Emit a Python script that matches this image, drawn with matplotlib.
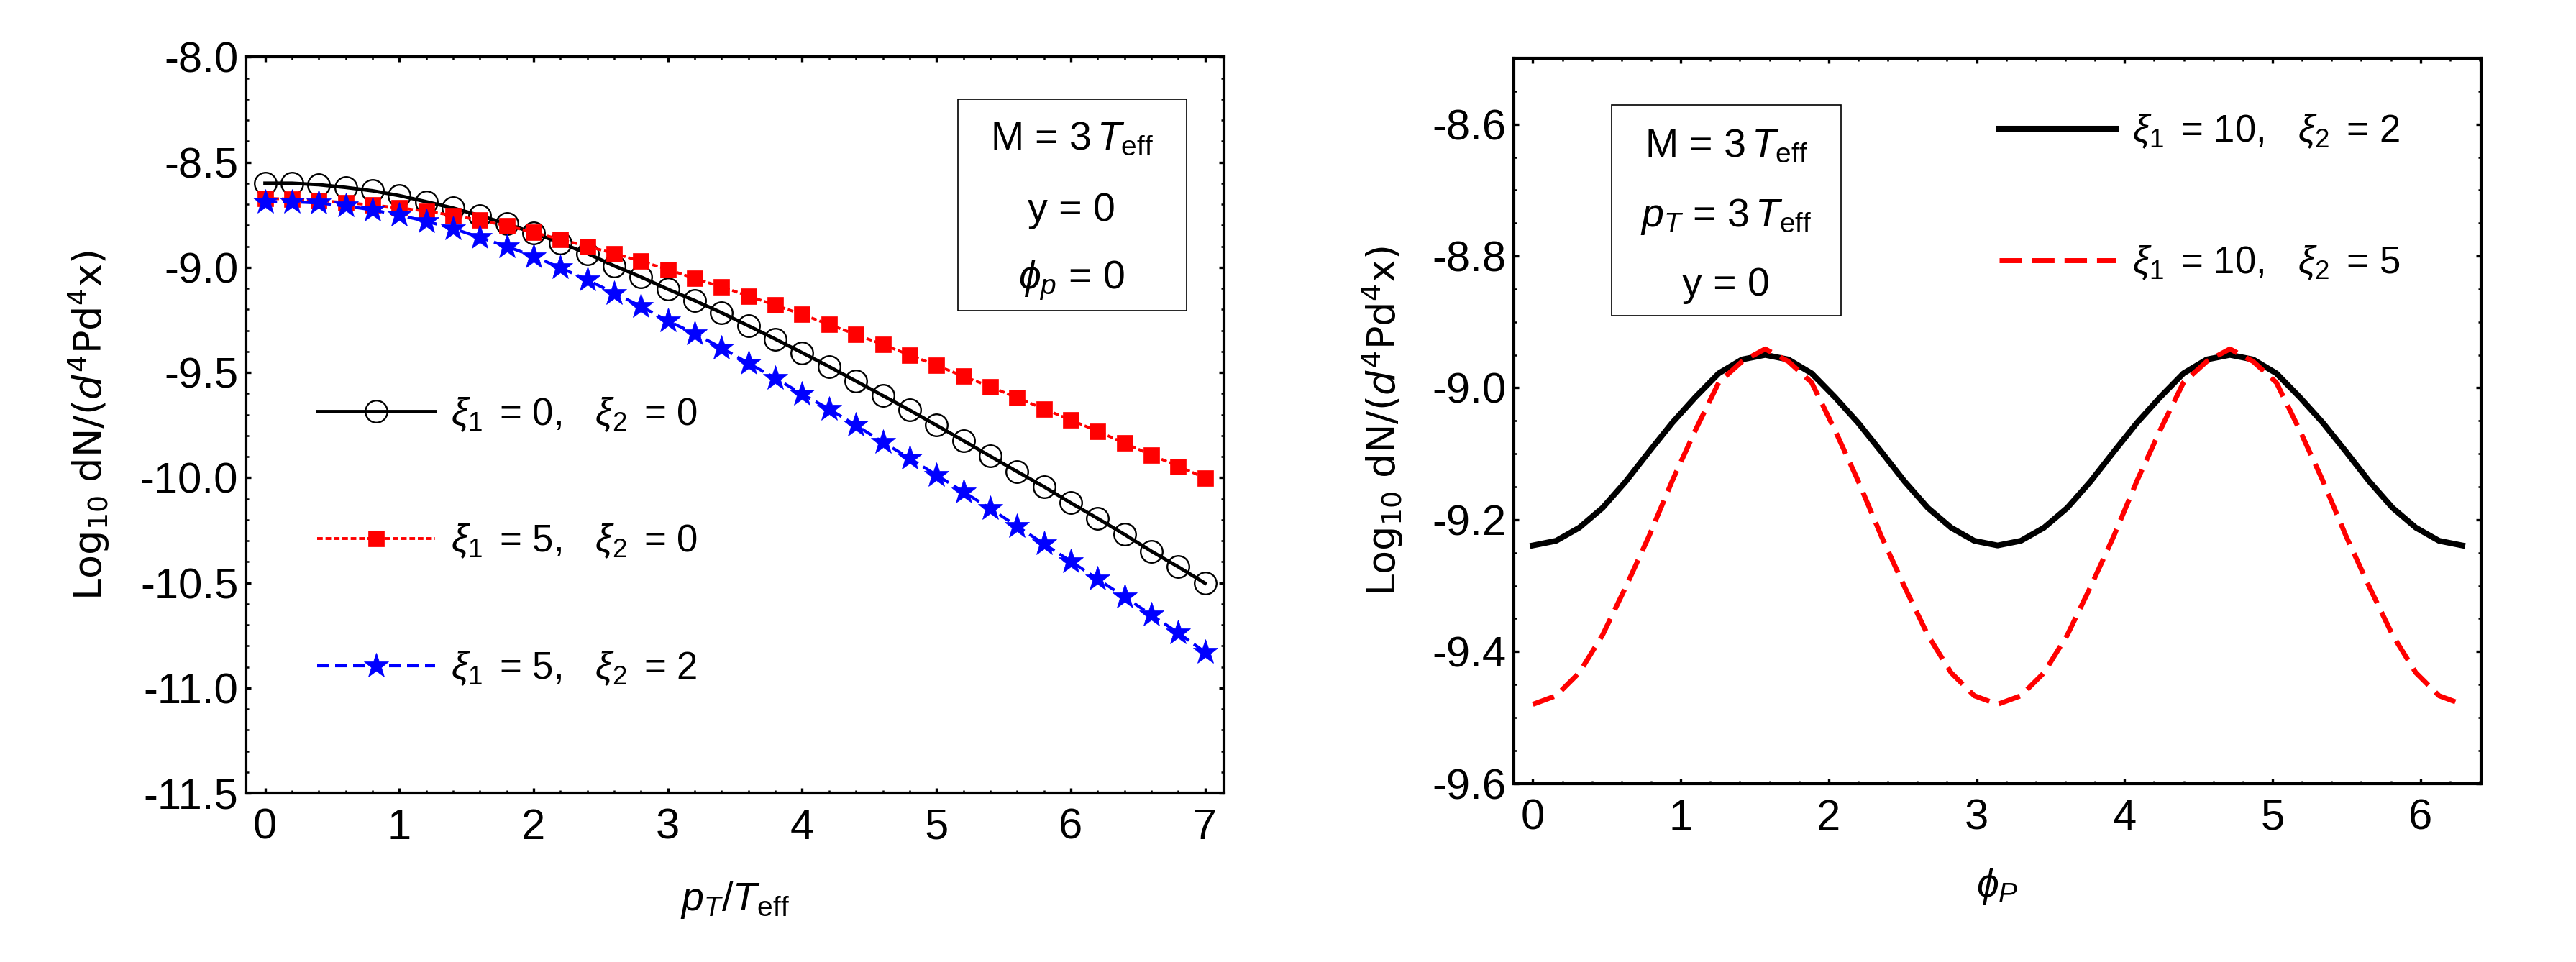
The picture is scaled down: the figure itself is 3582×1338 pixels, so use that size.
import numpy as np
import matplotlib
matplotlib.use("Agg")
import matplotlib.pyplot as plt
from matplotlib.ticker import MultipleLocator, FormatStrFormatter
from matplotlib.patches import Rectangle

plt.rcParams['font.family'] = ['Liberation Sans', 'DejaVu Sans']
plt.rcParams['mathtext.fontset'] = 'custom'
plt.rcParams['mathtext.rm'] = 'Liberation Sans'
plt.rcParams['mathtext.it'] = 'Liberation Sans:italic'
plt.rcParams['mathtext.bf'] = 'Liberation Sans:bold'

# left panel: log10 yield vs pT/Teff (points every 0.2)
pt = np.linspace(0, 7, 36)
y_x0_0 = [-8.600, -8.600, -8.607, -8.620, -8.636, -8.659, -8.688, -8.718, -8.754, -8.793,
          -8.836, -8.884, -8.934, -8.993, -9.046, -9.104, -9.158, -9.216, -9.278, -9.341,
          -9.406, -9.472, -9.541, -9.610, -9.679, -9.751, -9.824, -9.898, -9.971, -10.043,
          -10.120, -10.194, -10.270, -10.350, -10.424, -10.502]
y_x5_0 = [-8.672, -8.676, -8.682, -8.692, -8.704, -8.717, -8.733, -8.753, -8.776, -8.802,
          -8.834, -8.867, -8.900, -8.934, -8.971, -9.010, -9.053, -9.093, -9.136, -9.180,
          -9.224, -9.272, -9.319, -9.367, -9.417, -9.466, -9.518, -9.567, -9.620, -9.673,
          -9.726, -9.779, -9.836, -9.892, -9.946, -10.001]
y_x5_2 = [-8.688, -8.688, -8.694, -8.708, -8.727, -8.752, -8.781, -8.815, -8.858, -8.900,
          -8.948, -9.002, -9.060, -9.122, -9.186, -9.255, -9.315, -9.383, -9.456, -9.527,
          -9.603, -9.674, -9.751, -9.831, -9.908, -9.988, -10.067, -10.147, -10.231, -10.315,
          -10.398, -10.482, -10.567, -10.653, -10.738, -10.830]
left_labels = [r"$\xi_1\,$ = 0,   $\xi_2\,$ = 0",
               r"$\xi_1\,$ = 5,   $\xi_2\,$ = 0",
               r"$\xi_1\,$ = 5,   $\xi_2\,$ = 2"]

# right panel: log10 yield vs phi_P (41 points over 0..2pi)
phi = np.linspace(0, 2 * np.pi, 41)
y_10_2 = [-9.239, -9.232, -9.212, -9.182, -9.142, -9.097, -9.053, -9.014, -8.978, -8.957,
          -8.950, -8.957, -8.978, -9.014, -9.053, -9.097, -9.142, -9.182, -9.212, -9.232,
          -9.239, -9.232, -9.212, -9.182, -9.142, -9.097, -9.053, -9.014, -8.978, -8.957,
          -8.950, -8.957, -8.978, -9.014, -9.053, -9.097, -9.142, -9.182, -9.212, -9.232,
          -9.239]
y_10_5 = [-9.480, -9.467, -9.432, -9.375, -9.302, -9.225, -9.141, -9.064, -8.992, -8.960,
          -8.941, -8.960, -8.992, -9.064, -9.141, -9.225, -9.302, -9.375, -9.432, -9.467,
          -9.480, -9.467, -9.432, -9.375, -9.302, -9.225, -9.141, -9.064, -8.992, -8.960,
          -8.941, -8.960, -8.992, -9.064, -9.141, -9.225, -9.302, -9.375, -9.432, -9.467,
          -9.480]
right_labels = [r"$\xi_1\,$ = 10,   $\xi_2\,$ = 2", r"$\xi_1\,$ = 10,   $\xi_2\,$ = 5"]

ylab = r"Log$_{10}$ dN/($d^4$Pd$^4$x)"

fig = plt.figure(figsize=(35.82, 13.38), dpi=100)
ax1 = fig.add_axes([0.0956, 0.1756, 0.3795, 0.7651])
ax2 = fig.add_axes([0.5878, 0.1856, 0.3753, 0.7539])


def style(ax):
    for s in ax.spines.values():
        s.set_linewidth(3)
    ax.tick_params(which='both', direction='in', top=True, right=True, labelsize=43)
    ax.tick_params(which='major', length=5, width=2.4)
    ax.tick_params(which='minor', length=3, width=1.8)
    ax.tick_params(axis='x', pad=15)
    ax.tick_params(axis='y', pad=8)


# ---- left
h1, = ax1.plot(pt, y_x0_0, color='black', lw=3.5, marker='o', ms=22, mfc='none', mec='black', mew=1.7)
h2, = ax1.plot(pt, y_x5_0, color='red', lw=2.8, ls=(0, (2, 1)), marker='s', ms=16, mfc='red', mec='red', mew=0.5)
h3, = ax1.plot(pt, y_x5_2, color='blue', lw=3, ls=(0, (4, 2)), marker='*', ms=26, mfc='blue', mec='blue', mew=0.5)
ax1.set_xlim(-0.14, 7.14)
ax1.set_ylim(-11.5, -8.0)
ax1.xaxis.set_major_locator(MultipleLocator(1))
ax1.xaxis.set_minor_locator(MultipleLocator(0.2))
ax1.yaxis.set_major_locator(MultipleLocator(0.5))
ax1.yaxis.set_minor_locator(MultipleLocator(0.1))
ax1.yaxis.set_major_formatter(FormatStrFormatter('%.1f'))
style(ax1)
ax1.set_xlabel(r"$p_T/T_{\rm eff}$", fontsize=40)
ax1.xaxis.set_label_coords(0.5, -0.118)
ax1.set_ylabel(ylab, fontsize=39, family='DejaVu Sans', math_fontfamily='dejavusans')
ax1.yaxis.set_label_coords(-0.138, 0.5)
ax1.legend([h1, h2, h3], left_labels, loc='center left', bbox_to_anchor=(0.0725, 0.3419),
           frameon=False, fontsize=38, handlelength=3.1, handletextpad=0.42, labelspacing=2.35,
           borderpad=0, borderaxespad=0, numpoints=1)
ax1.add_patch(Rectangle((0.7276, 0.6558), 0.2342, 0.2866, transform=ax1.transAxes,
                        fill=False, lw=1.2, ec='black'))
for fy, s in [(0.8742, r"M = 3$\,T_{\rm eff}$"), (0.7779, "y = 0"), (0.6851, r"$\phi_p$ = 0")]:
    ax1.text(0.8444, fy, s, transform=ax1.transAxes, ha='center', va='baseline', fontsize=40)

# ---- right
g1, = ax2.plot(phi, y_10_2, color='black', lw=5.8)
g2, = ax2.plot(phi, y_10_5, color='red', lw=5, ls=(0, (4.5, 2)))
ax2.set_xlim(-0.126, 2 * np.pi + 0.126)
ax2.set_ylim(-9.6, -8.5)
ax2.xaxis.set_major_locator(MultipleLocator(1))
ax2.xaxis.set_minor_locator(MultipleLocator(0.2))
ax2.yaxis.set_major_locator(MultipleLocator(0.2))
ax2.yaxis.set_minor_locator(MultipleLocator(0.05))
ax2.yaxis.set_major_formatter(FormatStrFormatter('%.1f'))
style(ax2)
ax2.set_xlabel(r"$\phi_P$", fontsize=40)
ax2.xaxis.set_label_coords(0.5, -0.114)
ax2.set_ylabel(ylab, fontsize=39, family='DejaVu Sans', math_fontfamily='dejavusans')
ax2.yaxis.set_label_coords(-0.113, 0.5)
ax2.legend([g1, g2], right_labels, loc='center left', bbox_to_anchor=(0.5016, 0.8082),
           frameon=False, fontsize=38, handlelength=3.07, handletextpad=0.44, labelspacing=2.48,
           borderpad=0, borderaxespad=0)
ax2.add_patch(Rectangle((0.1006, 0.6453), 0.2374, 0.2903, transform=ax2.transAxes,
                        fill=False, lw=1.2, ec='black'))
for fy, s in [(0.8643, r"M = 3$\,T_{\rm eff}$"), (0.7684, r"$p_T$ = 3$\,T_{\rm eff}$"), (0.6731, "y = 0")]:
    ax2.text(0.2193, fy, s, transform=ax2.transAxes, ha='center', va='baseline', fontsize=40)

fig.savefig("out.png", dpi=100)
